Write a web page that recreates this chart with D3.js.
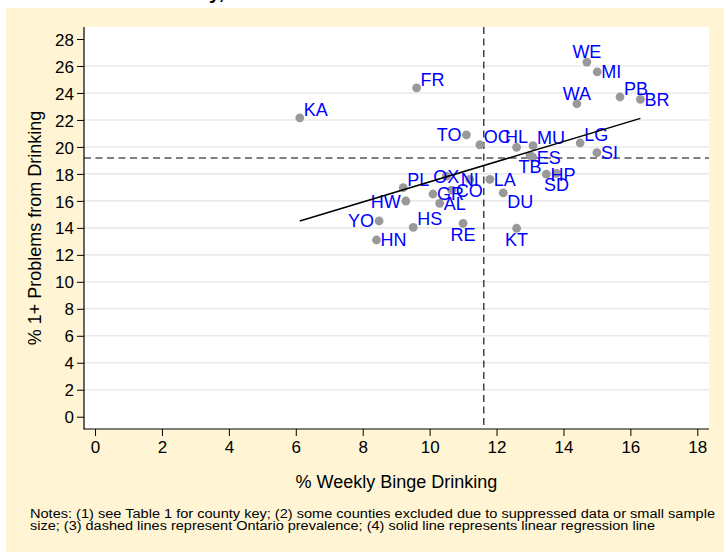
<!DOCTYPE html>
<html>
<head>
<meta charset="utf-8">
<script src="https://cdn.jsdelivr.net/npm/d3@7"></script>
<style>
  html, body { margin: 0; padding: 0; background: #ffffff; }
  svg { display: block; font-family: "Liberation Sans", Arial, sans-serif; }
</style>
</head>
<body>
<svg id="chart" width="724" height="552"></svg>
<script>
// ---- data ----
const counties = ["WE","MI","FR","WA","PB","BR","KA","TO","OC","HL","MU","LG","SI","ES","TB","HP","SD","OX","NI","CO","PL","LA","GR","AL","HW","DU","YO","HS","RE","KT","HN"];
const bingePct = [14.70,15.01,9.61,14.40,15.69,16.30,6.12,11.10,11.50,12.60,13.09,14.50,15.00,13.08,13.00,13.49,13.79,10.50,11.20,10.66,9.21,11.80,10.10,10.30,9.29,12.20,8.49,9.51,11.00,12.60,8.41];
const problemsPct = [26.29,25.57,24.37,23.20,23.70,23.53,22.16,20.90,20.16,19.97,20.09,20.29,19.57,19.25,19.38,17.99,18.04,17.84,17.60,16.80,16.98,17.60,16.51,15.82,15.99,16.60,14.51,14.04,14.34,13.97,13.10];
// marker label clock positions (Stata mlabvposition)
const labelClock = [12,3,2,12,2,3,2,9,2,12,2,2,3,3,6,3,6,0,0,3,2,3,3,3,9,4,9,2,6,6,3];
const xTicks = [0,2,4,6,8,10,12,14,16,18];
const yTicks = [0,2,4,6,8,10,12,14,16,18,20,22,24,26,28];
const ontarioBinge = 11.62;
const ontarioProblems = 19.18;
const regIntercept = 9.94;
const regSlope = 0.747;
const xTitle = "% Weekly Binge Drinking";
const yTitle = "% 1+ Problems from Drinking";
const notes = ["Notes: (1) see Table 1 for county key; (2) some counties excluded due to suppressed data or small sample",
               "size; (3) dashed lines represent Ontario prevalence; (4) solid line represents linear regression line"];

// ---- layout ----
const svg = d3.select("#chart");
const plot = {left: 84, right: 709, top: 27, bottom: 429};
const x = d3.scaleLinear().domain([-0.33, 18.35]).range([plot.left, plot.right]);
const y = d3.scaleLinear().domain([-0.91, 28.89]).range([plot.bottom, plot.top]);

// background
svg.append("rect").attr("x", 0).attr("y", 0).attr("width", 724).attr("height", 552).attr("fill", "#ffffff");
svg.append("rect").attr("x", 6).attr("y", 8).attr("width", 718).attr("height", 544).attr("fill", "#FFF5D4");
// partially visible title (cut off at the top)
svg.append("text").attr("x", 209).attr("y", -1).attr("font-size", 20).attr("font-weight", "bold")
   .attr("fill", "#000").text("y,");

svg.append("rect").attr("x", plot.left).attr("y", plot.top)
   .attr("width", plot.right - plot.left).attr("height", plot.bottom - plot.top).attr("fill", "#ffffff");

// gridlines
svg.append("g").selectAll("line").data(yTicks.filter(t => t > 0 && t < 28)).join("line")
  .attr("x1", plot.left).attr("x2", plot.right)
  .attr("y1", d => y(d)).attr("y2", d => y(d))
  .attr("stroke", "#EAEAEA").attr("stroke-width", 1.6);

// reference (Ontario) dashed lines
svg.append("line").attr("x1", x(ontarioBinge)).attr("x2", x(ontarioBinge))
  .attr("y1", plot.top).attr("y2", plot.bottom)
  .attr("stroke", "#000").attr("stroke-width", 1.1).attr("stroke-dasharray", "7,4.5");
svg.append("line").attr("x1", plot.left).attr("x2", plot.right)
  .attr("y1", y(ontarioProblems)).attr("y2", y(ontarioProblems))
  .attr("stroke", "#000").attr("stroke-width", 1.1).attr("stroke-dasharray", "7,4.5");

// axes
const yAxis = d3.axisLeft(y).tickValues(yTicks).tickSize(7).tickPadding(3);
const xAxis = d3.axisBottom(x).tickValues(xTicks).tickSize(7).tickPadding(5);
const gy = svg.append("g").attr("transform", `translate(${plot.left},0)`).call(yAxis);
const gx = svg.append("g").attr("transform", `translate(0,${plot.bottom})`).call(xAxis);
[gx, gy].forEach(g => {
  g.select(".domain").remove();
  g.selectAll(".tick line").attr("stroke", "#000").attr("stroke-width", 1);
  g.selectAll(".tick text").attr("font-size", 17).attr("fill", "#000")
   .attr("font-family", "Liberation Sans, Arial, sans-serif");
});
gy.selectAll(".tick text").attr("dy", "0.36em");
svg.append("line").attr("x1", plot.left).attr("x2", plot.left).attr("y1", plot.top).attr("y2", plot.bottom + 0.5)
  .attr("stroke", "#000").attr("stroke-width", 1.2);
svg.append("line").attr("x1", plot.left).attr("x2", plot.right).attr("y1", plot.bottom).attr("y2", plot.bottom)
  .attr("stroke", "#000").attr("stroke-width", 1.2);

// axis titles
svg.append("text").attr("x", (plot.left + plot.right) / 2).attr("y", 488)
  .attr("text-anchor", "middle").attr("font-size", 18).attr("fill", "#000").text(xTitle);
svg.append("text").attr("transform", `translate(41,${(plot.top + plot.bottom) / 2}) rotate(-90)`)
  .attr("text-anchor", "middle").attr("font-size", 18).attr("fill", "#000").text(yTitle);

// data
const pts = counties.map((c, i) => ({c, bx: bingePct[i], py: problemsPct[i], pos: labelClock[i]}));

svg.append("g").selectAll("circle").data(pts).join("circle")
  .attr("cx", d => x(d.bx)).attr("cy", d => y(d.py)).attr("r", 4.4)
  .attr("fill", "#999999");

// marker labels
const fs = 18, capHalf = 0.36 * fs;
function labelAttrs(d) {
  const cx = x(d.bx), cy = y(d.py);
  switch (d.pos) {
    case 3:  return {x: cx + 4, y: cy + capHalf, a: "start"};
    case 9:  return {x: cx - 5, y: cy + capHalf, a: "end"};
    case 12: return {x: cx, y: cy - 10.5 + capHalf, a: "middle"};
    case 6:  return {x: cx, y: cy + 11 + capHalf, a: "middle"};
    case 2:  return {x: cx + 4, y: cy - 8.5 + capHalf, a: "start"};
    case 4:  return {x: cx + 4, y: cy + 9 + capHalf, a: "start"};
    default: return {x: cx, y: cy + capHalf, a: "middle"};
  }
}
svg.append("g").selectAll("text").data(pts).join("text")
  .each(function(d) {
    const p = labelAttrs(d);
    d3.select(this).attr("x", p.x).attr("y", p.y).attr("text-anchor", p.a);
  })
  .attr("font-size", fs).attr("fill", "#0000FF").text(d => d.c);

// regression line
const bxExtent = d3.extent(bingePct);
svg.append("line")
  .attr("x1", x(bxExtent[0])).attr("y1", y(regIntercept + regSlope * bxExtent[0]))
  .attr("x2", x(bxExtent[1])).attr("y2", y(regIntercept + regSlope * bxExtent[1]))
  .attr("stroke", "#000").attr("stroke-width", 1.5);

// notes
svg.append("g").selectAll("text").data(notes).join("text")
  .attr("x", 30).attr("y", (d, i) => 517.5 + i * 12.5)
  .attr("font-size", 12.5).attr("fill", "#000")
  .attr("textLength", (d, i) => i === 0 ? 685 : 625).attr("lengthAdjust", "spacingAndGlyphs")
  .text(d => d);
</script>
</body>
</html>
